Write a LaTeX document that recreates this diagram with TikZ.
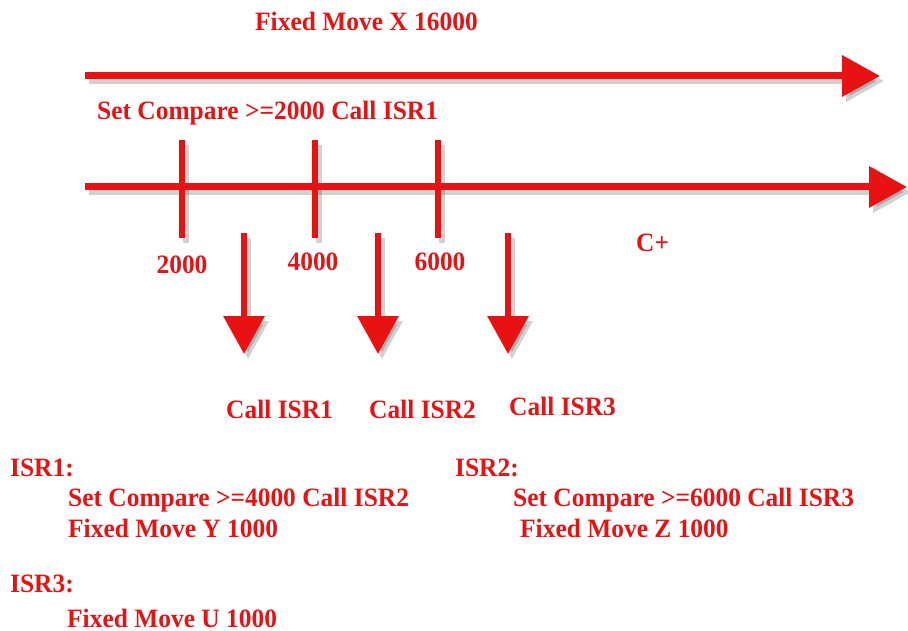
\documentclass[tikz,border=0pt]{standalone}
\usepackage{fontspec}
\setmainfont{Liberation Serif}
\newfontfamily\lblfont{Liberation Serif}[FakeStretch=0.96]
\usetikzlibrary{arrows.meta}
\definecolor{ared}{RGB}{232,18,18}
\tikzset{
  lbl/.style={text=ared, font=\lblfont\fontsize{26.5}{30}\selectfont\bfseries, inner sep=0pt, anchor=base west},
  shadowline/.style={draw=black, opacity=0.18, transform canvas={shift={(4pt,-5pt)}}},
  bigarrow/.style={line width=7pt, -{Triangle[length=38pt,width=40pt]}},
  downarrow/.style={line width=6.5pt, -{Triangle[length=38pt,width=40pt]}},
  tick/.style={line width=6pt}
}
\begin{document}
\begin{tikzpicture}[x=1pt,y=-1pt]
\useasboundingbox (0,0) rectangle (908,631);
% coordinates
\coordinate (xs) at (85,76);
\coordinate (xe) at (880,76);
\coordinate (cs) at (85,187);
\coordinate (ce) at (907,187);
\coordinate (t1a) at (182,140); \coordinate (t1b) at (182,238);
\coordinate (t2a) at (315,140); \coordinate (t2b) at (315,238);
\coordinate (t3a) at (438,140); \coordinate (t3b) at (438,238);
\coordinate (d1a) at (244,233); \coordinate (d1b) at (244,354);
\coordinate (d2a) at (378,233); \coordinate (d2b) at (378,354);
\coordinate (d3a) at (508,233); \coordinate (d3b) at (508,354);
% shadows
\draw[bigarrow, shadowline] (xs) -- (xe);
\draw[bigarrow, shadowline] (cs) -- (ce);
\draw[tick, shadowline] (t1a) -- (t1b);
\draw[tick, shadowline] (t2a) -- (t2b);
\draw[tick, shadowline] (t3a) -- (t3b);
\draw[downarrow, shadowline] (d1a) -- (d1b);
\draw[downarrow, shadowline] (d2a) -- (d2b);
\draw[downarrow, shadowline] (d3a) -- (d3b);
% main arrows
\draw[bigarrow, draw=ared] (xs) -- (xe);
\draw[bigarrow, draw=ared] (cs) -- (ce);
% ticks
\draw[tick, draw=ared] (t1a) -- (t1b);
\draw[tick, draw=ared] (t2a) -- (t2b);
\draw[tick, draw=ared] (t3a) -- (t3b);
% down arrows
\draw[downarrow, draw=ared] (d1a) -- (d1b);
\draw[downarrow, draw=ared] (d2a) -- (d2b);
\draw[downarrow, draw=ared] (d3a) -- (d3b);
% labels
\node[lbl] (fx) at (255,31) {Fixed Move X 16000};
\node[lbl] (sc1) at (97,120) {Set Compare >=2000 Call ISR1};
\node[lbl, anchor=base] (l2) at (182,273) {2000};
\node[lbl, anchor=base] (l4) at (313,271) {4000};
\node[lbl, anchor=base] (l6) at (440,271) {6000};
\node[lbl] (cp) at (636,252) {C+};
\node[lbl] (c1) at (226,418) {Call ISR1};
\node[lbl] (c2) at (369,418) {Call ISR2};
\node[lbl] (c3) at (509,415) {Call ISR3};
\node[lbl] (i1) at (10,476) {ISR1:};
\node[lbl] (i1a) at (68,506) {Set Compare >=4000 Call ISR2};
\node[lbl] (i1b) at (68,537) {Fixed Move Y 1000};
\node[lbl] (i2) at (455,476) {ISR2:};
\node[lbl] (i2a) at (513,506) {Set Compare >=6000 Call ISR3};
\node[lbl] (i2b) at (520,537) {Fixed Move Z 1000};
\node[lbl] (i3) at (10,592) {ISR3:};
\node[lbl] (i3a) at (67,627) {Fixed Move U 1000};
\end{tikzpicture}
\end{document}
